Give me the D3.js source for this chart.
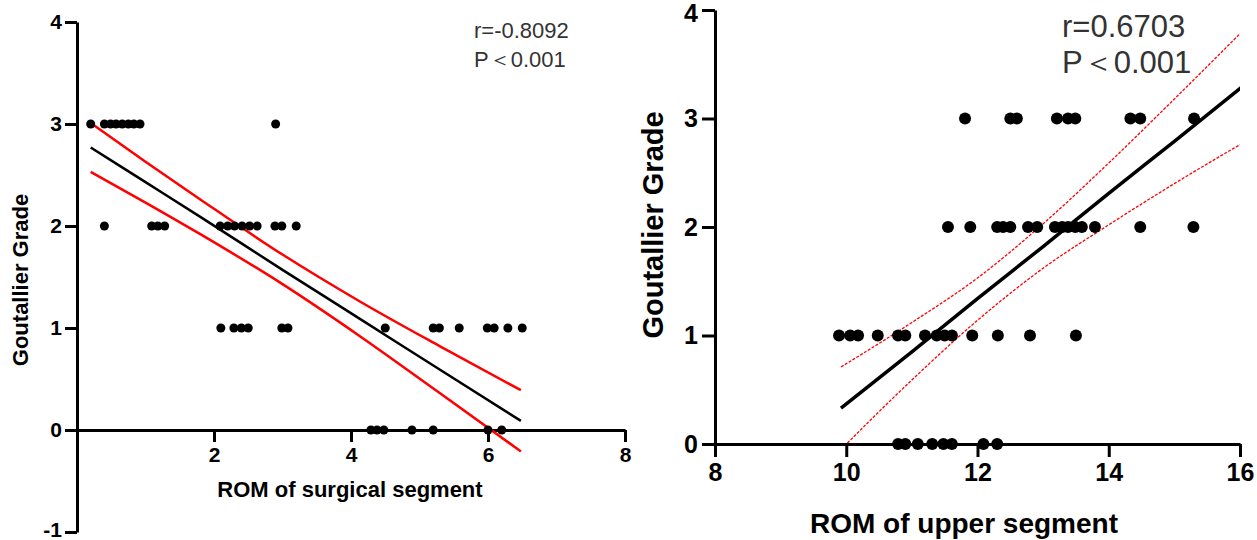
<!DOCTYPE html>
<html>
<head>
<meta charset="utf-8">
<script src="https://cdn.jsdelivr.net/npm/d3@7"></script>
<style>
  body { margin: 0; background: #fff; }
  text { font-family: "Liberation Sans", Arial, sans-serif; }
</style>
</head>
<body>
<div id="chart"></div>
<script>
// ---- left panel: ROM of surgical segment vs Goutallier grade ----
const surgicalROM = [0.2, 0.4, 0.49, 0.57, 0.66, 0.75, 0.83, 0.92, 2.9,
    0.4, 1.09, 1.18, 1.28, 2.09, 2.2, 2.3, 2.41, 2.52, 2.63, 2.89, 2.99, 3.2,
    2.1, 2.29, 2.4, 2.5, 2.99, 3.08, 4.5, 5.2, 5.29, 5.58, 5.99, 6.09, 6.29, 6.5,
    4.29, 4.38, 4.48, 4.89, 5.2, 6.0, 6.2];
const surgicalGrade = [3, 3, 3, 3, 3, 3, 3, 3, 3,
    2, 2, 2, 2, 2, 2, 2, 2, 2, 2, 2, 2, 2,
    1, 1, 1, 1, 1, 1, 1, 1, 1, 1, 1, 1, 1, 1,
    0, 0, 0, 0, 0, 0, 0];
// fitted line and 95% band
const surgicalFitX = [0.2, 1, 1.8, 3, 4.13, 5.3, 6.48];
const surgicalFit = [2.77, 2.43, 2.09, 1.57, 1.09, 0.59, 0.09];
const surgicalUpper = [3.01, 2.63, 2.26, 1.72, 1.26, 0.82, 0.39];
const surgicalLower = [2.53, 2.23, 1.92, 1.43, 0.92, 0.36, -0.21];
const surgicalTicksX = [2, 4, 6, 8];
const surgicalTicksY = [-1, 0, 1, 2, 3, 4];

// ---- right panel: ROM of upper segment vs Goutallier grade ----
const upperROM = [11.81, 12.5, 12.6, 13.21, 13.38, 13.49, 14.33, 14.48, 15.3,
    11.55, 11.89, 12.3, 12.39, 12.5, 12.77, 12.91, 13.18, 13.29, 13.38, 13.49, 13.59, 13.79, 14.48, 15.29,
    9.89, 10.06, 10.18, 10.48, 10.79, 10.9, 11.2, 11.38, 11.5, 11.61, 11.92, 12.31, 12.8, 13.5,
    10.79, 10.9, 11.09, 11.31, 11.48, 11.61, 12.09, 12.3];
const upperGrade = [3, 3, 3, 3, 3, 3, 3, 3, 3,
    2, 2, 2, 2, 2, 2, 2, 2, 2, 2, 2, 2, 2, 2, 2,
    1, 1, 1, 1, 1, 1, 1, 1, 1, 1, 1, 1, 1, 1,
    0, 0, 0, 0, 0, 0, 0, 0];
const upperFitX = [9.92, 11, 12, 13, 14, 15, 16.03];
const upperFit = [0.33, 0.85, 1.34, 1.82, 2.31, 2.79, 3.29];
const upperUpper = [0.71, 1.12, 1.53, 2.03, 2.59, 3.18, 3.80];
const upperLower = [-0.05, 0.59, 1.14, 1.62, 2.02, 2.40, 2.77];
const upperTicksX = [8, 10, 12, 14, 16];
const upperTicksY = [0, 1, 2, 3, 4];

const svg = d3.select("#chart").append("svg")
    .attr("width", 1257)
    .attr("height", 540);

function drawAxes(g, x, y, ticksX, ticksY, opt) {
    const fmt = d => String(d);
    const yAxis = g.append("g")
        .attr("transform", `translate(${x.range()[0]},0)`)
        .call(d3.axisLeft(y).tickValues(ticksY).tickFormat(fmt)
            .tickSize(opt.tick).tickPadding(opt.pad).tickSizeOuter(0));
    const xAxis = g.append("g")
        .attr("transform", `translate(0,${y(0)})`)
        .call(d3.axisBottom(x).tickValues(ticksX).tickFormat(fmt)
            .tickSize(opt.tick).tickPadding(opt.padX).tickSizeOuter(0));
    [yAxis, xAxis].forEach(a => {
        a.select(".domain").attr("stroke", "#000").attr("stroke-width", 3);
        a.selectAll(".tick line").attr("stroke", "#000").attr("stroke-width", 3);
        a.selectAll(".tick text")
            .attr("fill", "#000")
            .style("font-size", opt.font + "px")
            .style("font-weight", "bold");
    });
    // keep the end labels inside the picture
    yAxis.selectAll(".tick text").filter(d => d === ticksY[0] && d < 0).attr("dy", "0.2em");
    yAxis.selectAll(".tick text").filter(d => d === ticksY[ticksY.length - 1] && y(d) < 15).attr("dy", "0.45em");
}

function drawPanel(cfg) {
    const g = svg.append("g");
    const x = d3.scaleLinear().domain(cfg.xDomain).range(cfg.xRange);
    const y = d3.scaleLinear().domain(cfg.yDomain).range(cfg.yRange);

    const clipId = cfg.id + "-clip";
    g.append("clipPath").attr("id", clipId).append("rect")
        .attr("x", x.range()[0]).attr("y", y.range()[1])
        .attr("width", x.range()[1] - x.range()[0])
        .attr("height", y.range()[0] - y.range()[1]);

    drawAxes(g, x, y, cfg.ticksX, cfg.ticksY, cfg.axis);

    const line = d3.line().x(d => x(d[0])).y(d => y(d[1])).curve(d3.curveMonotoneX);
    const lines = g.append("g").attr("clip-path", cfg.clip ? `url(#${clipId})` : null);
    [cfg.upper, cfg.lower].forEach(band => {
        lines.append("path")
            .datum(cfg.fitX.map((v, i) => [v, band[i]]))
            .attr("d", line)
            .attr("fill", "none")
            .attr("stroke", "#f00")
            .attr("stroke-width", cfg.bandWidth)
            .attr("stroke-dasharray", cfg.bandDash);
    });
    lines.append("path")
        .datum(cfg.fitX.map((v, i) => [v, cfg.fit[i]]))
        .attr("d", line)
        .attr("fill", "none")
        .attr("stroke", "#000")
        .attr("stroke-width", cfg.fitWidth);

    g.append("g").selectAll("circle")
        .data(cfg.xs.map((v, i) => ({ x: v, y: cfg.ys[i] })))
        .join("circle")
        .attr("cx", d => x(d.x))
        .attr("cy", d => y(d.y))
        .attr("r", cfg.dot)
        .attr("fill", "#000");

    g.append("text")
        .attr("transform", `translate(${cfg.yLabelPos[0]},${cfg.yLabelPos[1]}) rotate(-90)`)
        .attr("text-anchor", "middle")
        .style("font-size", cfg.yLabelFont + "px")
        .style("font-weight", "bold")
        .text("Goutallier Grade");
    g.append("text")
        .attr("x", cfg.xLabelPos[0]).attr("y", cfg.xLabelPos[1])
        .attr("text-anchor", "middle")
        .style("font-size", cfg.xLabelFont + "px")
        .style("font-weight", "bold")
        .text(cfg.xLabel);

    cfg.stats.forEach((s, i) => {
        g.append("text")
            .attr("x", cfg.statPos[0])
            .attr("y", cfg.statPos[1] + i * cfg.statGap)
            .style("font-size", cfg.statFont + "px")
            .attr("fill", "#333")
            .text(s);
    });
}

drawPanel({
    id: "left",
    xs: surgicalROM, ys: surgicalGrade,
    xDomain: [0, 8], xRange: [77, 625],
    yDomain: [-1, 4], yRange: [532, 22],
    ticksX: surgicalTicksX, ticksY: surgicalTicksY,
    axis: { tick: 12, pad: 3, padX: 5, font: 21 },
    fitX: surgicalFitX, fit: surgicalFit, upper: surgicalUpper, lower: surgicalLower,
    bandWidth: 2.5, bandDash: null, fitWidth: 2.5, clip: false,
    dot: 4.5,
    xLabel: "ROM of surgical segment", xLabelPos: [350, 497], xLabelFont: 22,
    yLabelPos: [28, 280], yLabelFont: 22,
    stats: ["r=-0.8092", "P\uFF1C0.001"], statPos: [474, 38], statGap: 29, statFont: 22
});

drawPanel({
    id: "right",
    xs: upperROM, ys: upperGrade,
    xDomain: [8, 16], xRange: [715, 1240],
    yDomain: [0, 4], yRange: [444, 10],
    ticksX: upperTicksX, ticksY: upperTicksY,
    axis: { tick: 13, pad: 4, padX: 6, font: 25 },
    fitX: upperFitX, fit: upperFit, upper: upperUpper, lower: upperLower,
    bandWidth: 1.3, bandDash: "3,1.5", fitWidth: 3.5, clip: true,
    dot: 6,
    xLabel: "ROM of upper segment", xLabelPos: [964, 533], xLabelFont: 28,
    yLabelPos: [663, 225], yLabelFont: 29,
    stats: ["r=0.6703", "P\uFF1C0.001"], statPos: [1062, 37], statGap: 36, statFont: 31
});
</script>
</body>
</html>
